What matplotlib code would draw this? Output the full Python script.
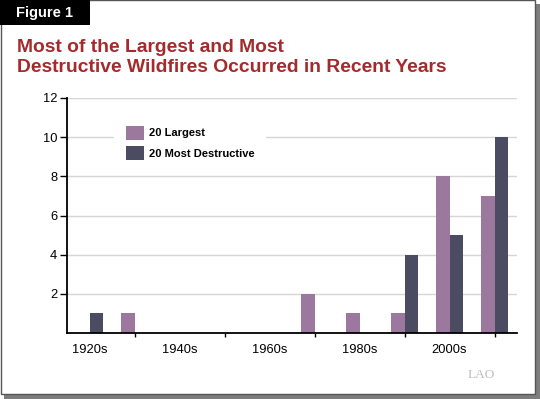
import numpy as np
import matplotlib.pyplot as plt
from matplotlib.patches import Rectangle

plt.rcParams['font.family'] = ['Liberation Sans', 'DejaVu Sans']

# data
decades = ["1920s", "1930s", "1940s", "1950s", "1960s",
           "1970s", "1980s", "1990s", "2000s", "2010s"]
largest = [0, 1, 0, 0, 0, 2, 1, 1, 8, 7]
destructive = [1, 0, 0, 0, 0, 0, 0, 4, 5, 10]
labeled = ["1920s", "1940s", "1960s", "1980s", "2000s"]
marked = ["1930s", "1950s", "1970s", "1980s", "1990s", "2000s", "2010s"]
yticks = [2, 4, 6, 8, 10, 12]

c_light = "#9C789E"
c_dark = "#4B4B61"
c_title = "#A42A2B"

W, H = 540, 399
fig = plt.figure(figsize=(W / 100, H / 100), dpi=100)
fig.patch.set_facecolor("white")

# frame with drop shadow
fig.add_artist(Rectangle((4 / W, 0), 536 / W, 395 / H, transform=fig.transFigure,
                         facecolor="#7D7D7D", edgecolor="none", zorder=0))
fig.add_artist(Rectangle((0.5 / W, 5 / H), 534.5 / W, 393.5 / H, transform=fig.transFigure,
                         facecolor="white", edgecolor="#555555", lw=1, zorder=0))

# figure tab
fig.add_artist(Rectangle((0, 374 / H), 90 / W, 25 / H, transform=fig.transFigure,
                         facecolor="black", edgecolor="none", zorder=1))
fig.text(45 / W, 1 - 13 / H, "Figure 1", color="white", fontsize=10.5,
         fontweight="bold", ha="center", va="center")

# title
fig.text(17 / W, 1 - 52 / H, "Most of the Largest and Most", color=c_title,
         fontsize=13.9, fontweight="bold", ha="left", va="baseline")
fig.text(17 / W, 1 - 72 / H, "Destructive Wildfires Occurred in Recent Years",
         color=c_title, fontsize=13.9, fontweight="bold", ha="left", va="baseline")

# chart
ax = fig.add_axes([67 / W, (H - 333) / H, 450 / W, 235 / H])
ax.set_facecolor("none")
x = np.arange(len(decades))
bw = 0.29
ax.bar(x - bw, largest, width=bw, align="edge", color=c_light, label="20 Largest", zorder=3)
ax.bar(x, destructive, width=bw, align="edge", color=c_dark,
       label="20 Most Destructive", zorder=3)

ax.set_xlim(-0.5, len(decades) - 0.5)
ax.set_ylim(0, 12)
ax.set_yticks(yticks)
ax.tick_params(axis="y", length=5, width=1, pad=2, labelsize=9.3)
for t in yticks:
    ax.axhline(t, color="#D6D6D6", lw=1, zorder=1)

ax.set_xticks([decades.index(d) for d in labeled])
ax.set_xticklabels(labeled)
ax.set_xticks([decades.index(d) for d in marked], minor=True)
ax.tick_params(axis="x", which="major", length=0, pad=8, labelsize=9.3)
ax.tick_params(axis="x", which="minor", length=3, width=1)

for s in ["top", "right"]:
    ax.spines[s].set_visible(False)
for s in ["left", "bottom"]:
    ax.spines[s].set_linewidth(1.3)
    ax.spines[s].set_zorder(4)

leg = ax.legend(loc="upper left", bbox_to_anchor=(41 / 450, 1 - 10 / 235),
                prop={"weight": "bold", "size": 8},
                handlelength=1.6, handleheight=1.55, handletextpad=0.45,
                labelspacing=0.6, borderpad=1.1, frameon=True, fancybox=False)
leg.get_frame().set_facecolor("white")
leg.get_frame().set_edgecolor("none")
leg.get_frame().set_alpha(1)
leg.set_zorder(5)

# logo
fig.text(468 / W, 1 - 378 / H, "LAO", color="#BDBDBD", fontsize=9.5,
         family="Liberation Serif", ha="left", va="baseline")

fig.savefig("out.png", dpi=100)
